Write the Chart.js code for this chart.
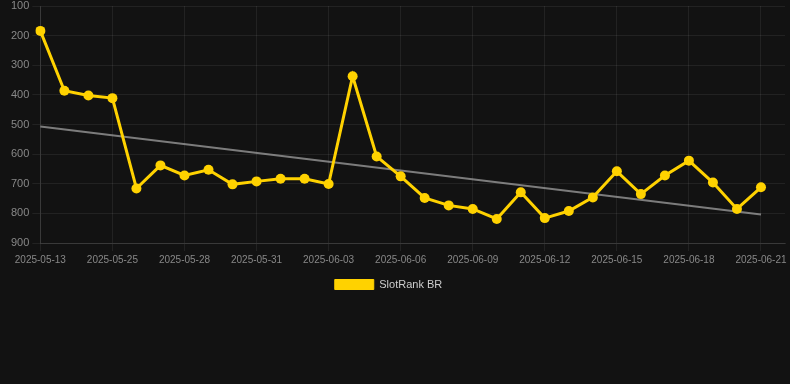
<!DOCTYPE html>
<html>
<head>
<meta charset="utf-8">
<script src="https://cdn.jsdelivr.net/npm/chart.js@4/dist/chart.umd.min.js"></script>
<style>
  html, body { margin: 0; padding: 0; background: #121212; }
  #wrap { width: 790px; height: 300px; }
</style>
</head>
<body>
<div id="wrap"><canvas id="c" width="790" height="300"></canvas></div>
<script>
const categories = [
  '2025-05-13','2025-05-17','2025-05-21','2025-05-25','2025-05-26','2025-05-27','2025-05-28',
  '2025-05-29','2025-05-30','2025-05-31','2025-06-01','2025-06-02','2025-06-03','2025-06-04',
  '2025-06-05','2025-06-06','2025-06-07','2025-06-08','2025-06-09','2025-06-10','2025-06-11',
  '2025-06-12','2025-06-13','2025-06-14','2025-06-15','2025-06-16','2025-06-17','2025-06-18',
  '2025-06-19','2025-06-20','2025-06-21','2025-06-22'
];
const rankValues = [
  184, 386, 402, 411, 716, 638, 672, 653, 702, 692, 683, 683, 701, 337, 608, 675,
  748, 773, 785, 819, 729, 816, 792, 746, 658, 735, 672, 622, 696, 785, 712, null
];
// trend line: only its two end values
const trendValues = [507].concat(new Array(29).fill(null), [804, null]);
const yTicks = [100, 200, 300, 400, 500, 600, 700, 800, 900];

const gold = '#FFD200';
const fontFam = 'Liberation Sans, Arial, sans-serif';

const legendShift = {
  id: 'legendShift',
  afterLayout(chart) {
    if (chart.legend) { chart.legend.left -= 8; chart.legend.right -= 8; }
  }
};

new Chart(document.getElementById('c'), {
  type: 'line',
  data: {
    labels: categories,
    datasets: [
      {
        label: 'SlotRank BR',
        data: rankValues,
        borderColor: gold,
        backgroundColor: gold,
        borderWidth: 3,
        pointRadius: 5,
        pointHoverRadius: 5,
        pointBackgroundColor: gold,
        pointBorderColor: gold,
        pointBorderWidth: 0,
        tension: 0
      },
      {
        label: 'trend',
        data: trendValues,
        borderColor: 'rgba(160,160,160,0.75)',
        borderWidth: 2,
        pointRadius: 0,
        spanGaps: true,
        tension: 0
      }
    ]
  },
  plugins: [legendShift],
  options: {
    responsive: false,
    animation: false,
    layout: { padding: { left: 8, right: 5, top: 0 } },
    plugins: {
      legend: {
        position: 'bottom',
        labels: {
          color: '#cccccc',
          font: { size: 11, family: fontFam },
          boxWidth: 39,
          boxHeight: 10,
          generateLabels: (chart) => {
            const items = Chart.defaults.plugins.legend.labels.generateLabels(chart);
            return items.filter(it => it.text !== 'trend').map(it => Object.assign(it, { lineWidth: 1 }));
          }
        }
      },
      tooltip: { enabled: false }
    },
    scales: {
      x: {
        ticks: {
          color: '#888888',
          font: { size: 10, family: fontFam },
          maxRotation: 0,
          autoSkip: true,
          callback: function(v, i) { return i % 3 === 0 ? this.getLabelForValue(v) : null; }
        },
        grid: { color: 'rgba(255,255,255,0.07)' },
        border: { color: 'rgba(255,255,255,0.1)' }
      },
      y: {
        reverse: true,
        min: 100,
        max: 900,
        afterBuildTicks: (scale) => { scale.ticks = yTicks.map(v => ({ value: v })); },
        afterFit: (scale) => { scale.paddingTop = 6; },
        ticks: {
          color: '#888888',
          font: { size: 11, family: fontFam }
        },
        grid: { color: 'rgba(255,255,255,0.07)' },
        border: { color: 'rgba(255,255,255,0.1)' }
      }
    }
  }
});
</script>
</body>
</html>
